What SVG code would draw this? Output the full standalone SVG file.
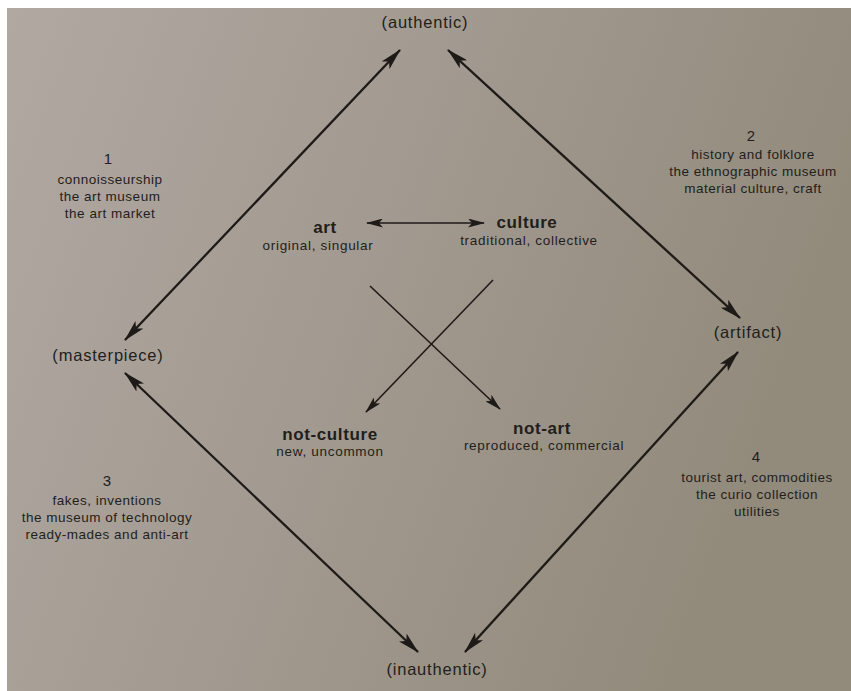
<svg xmlns="http://www.w3.org/2000/svg" width="851" height="691" viewBox="0 0 851 691">
<defs>
<linearGradient id="bg" x1="0" y1="0" x2="1" y2="0.3">
<stop offset="0" stop-color="#b1a8a2"/>
<stop offset="0.5" stop-color="#a29a90"/>
<stop offset="1" stop-color="#928a7b"/>
</linearGradient>
<marker id="ah" viewBox="0 0 22 11" refX="21" refY="5.5" markerWidth="22" markerHeight="11" markerUnits="userSpaceOnUse" orient="auto-start-reverse">
<path d="M0,0 L22,5.5 L0,11 L5,5.5 Z" fill="#1e1a18"/>
</marker>
<marker id="ahs" viewBox="0 0 17 9" refX="16" refY="4.5" markerWidth="17" markerHeight="9" markerUnits="userSpaceOnUse" orient="auto-start-reverse">
<path d="M0,0 L17,4.5 L0,9 L4,4.5 Z" fill="#1e1a18"/>
</marker>
</defs>
<style>
text{font-family:"Liberation Sans",Arial,sans-serif;fill:#221e1c;text-anchor:middle}
.pole{font-size:16.5px;letter-spacing:0.8px}
.head{font-size:17px;font-weight:bold;letter-spacing:0.6px}
.sub{font-size:13.5px;letter-spacing:0.7px}
.q{font-size:13.5px;letter-spacing:0.5px}
.num{font-size:15px}
.main{stroke:#1e1a18;stroke-width:2.3;fill:none}
.thin{stroke:#1e1a18;stroke-width:1.6;fill:none}
</style>
<rect width="851" height="691" fill="#ffffff"/>
<rect x="7" y="8" width="844" height="683" fill="url(#bg)"/>

<g id="connectors">
<line class="main" x1="125" y1="340" x2="400" y2="50" marker-start="url(#ah)" marker-end="url(#ah)"/>
<line class="main" x1="448" y1="50" x2="740" y2="318" marker-start="url(#ah)" marker-end="url(#ah)"/>
<line class="main" x1="125" y1="373" x2="418" y2="652" marker-start="url(#ah)" marker-end="url(#ah)"/>
<line class="main" x1="465" y1="652" x2="738" y2="352" marker-start="url(#ah)" marker-end="url(#ah)"/>
<line class="thin" x1="367" y1="223" x2="484" y2="223" marker-start="url(#ahs)" marker-end="url(#ahs)"/>
<line class="thin" x1="370" y1="286" x2="500" y2="409" marker-end="url(#ahs)"/>
<line class="thin" x1="493" y1="280" x2="366" y2="412" marker-end="url(#ahs)"/>
</g>

<g id="authentic"><text class="pole" x="425" y="28">(authentic)</text></g>
<g id="masterpiece"><text class="pole" x="108" y="361">(masterpiece)</text></g>
<g id="artifact"><text class="pole" x="748" y="338">(artifact)</text></g>
<g id="inauthentic"><text class="pole" x="437" y="675">(inauthentic)</text></g>

<g id="art"><text class="head" x="325" y="233">art</text><text class="sub" x="318" y="250">original, singular</text></g>
<g id="culture"><text class="head" x="527" y="228">culture</text><text class="sub" x="529" y="245">traditional, collective</text></g>
<g id="not-culture"><text class="head" x="330" y="440">not-culture</text><text class="sub" x="330" y="456">new, uncommon</text></g>
<g id="not-art"><text class="head" x="542" y="434">not-art</text><text class="sub" x="544" y="450">reproduced, commercial</text></g>

<g id="zone1"><text class="num" x="108" y="164">1</text><text class="q" x="110" y="184">connoisseurship</text><text class="q" x="110" y="201">the art museum</text><text class="q" x="110" y="218">the art market</text></g>
<g id="zone2"><text class="num" x="751" y="141">2</text><text class="q" x="753" y="159">history and folklore</text><text class="q" x="753" y="176">the ethnographic museum</text><text class="q" x="753" y="193">material culture, craft</text></g>
<g id="zone3"><text class="num" x="107" y="486">3</text><text class="q" x="107" y="505">fakes, inventions</text><text class="q" x="107" y="522">the museum of technology</text><text class="q" x="107" y="539">ready-mades and anti-art</text></g>
<g id="zone4"><text class="num" x="756" y="462">4</text><text class="q" x="757" y="482">tourist art, commodities</text><text class="q" x="757" y="499">the curio collection</text><text class="q" x="757" y="516">utilities</text></g>
</svg>
